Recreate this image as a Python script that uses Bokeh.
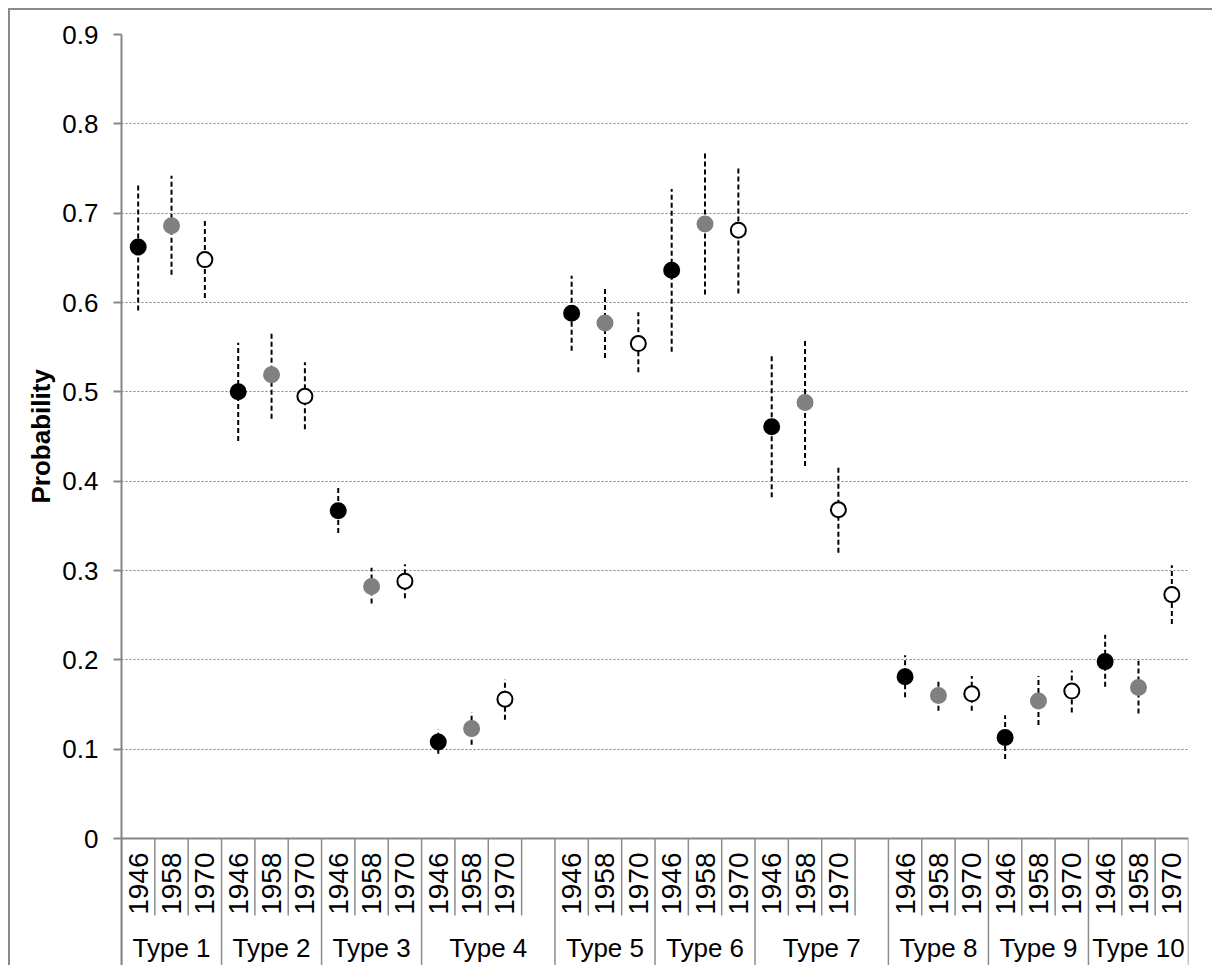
import math
from bokeh.plotting import figure
from bokeh.models import (Range1d, FixedTicker, Span, LabelSet, Title,
                          ColumnDataSource, CustomJSTickFormatter)
from bokeh.embed import file_html
from bokeh.resources import INLINE
from bokeh.core.properties import value

# ---------------- data ----------------
types = ["Type 1", "Type 2", "Type 3", "Type 4", "Type 5",
         "Type 6", "Type 7", "Type 8", "Type 9", "Type 10"]
cohorts = ["1946", "1958", "1970"]
slots_per_type = [3, 3, 3, 4, 3, 3, 4, 3, 3, 3]   # Type 4 and Type 7 carry an empty slot

v1946 = [0.662, 0.500, 0.367, 0.108, 0.588, 0.636, 0.461, 0.181, 0.113, 0.198]
lo1946 = [0.591, 0.445, 0.342, 0.095, 0.546, 0.545, 0.382, 0.158, 0.089, 0.170]
hi1946 = [0.732, 0.555, 0.394, 0.122, 0.630, 0.727, 0.541, 0.205, 0.138, 0.228]

v1958 = [0.686, 0.519, 0.282, 0.123, 0.577, 0.688, 0.488, 0.160, 0.154, 0.169]
lo1958 = [0.631, 0.470, 0.263, 0.105, 0.538, 0.609, 0.417, 0.143, 0.127, 0.140]
hi1958 = [0.742, 0.568, 0.303, 0.141, 0.615, 0.768, 0.560, 0.178, 0.182, 0.199]

v1970 = [0.648, 0.495, 0.288, 0.156, 0.554, 0.681, 0.368, 0.162, 0.165, 0.273]
lo1970 = [0.605, 0.458, 0.269, 0.133, 0.522, 0.610, 0.320, 0.143, 0.141, 0.240]
hi1970 = [0.692, 0.533, 0.307, 0.178, 0.589, 0.751, 0.416, 0.182, 0.188, 0.306]

y_ticks = [0, 0.1, 0.2, 0.3, 0.4, 0.5, 0.6, 0.7, 0.8, 0.9]
y_title = "Probability"

# ---------------- layout helpers ----------------
FONT = "Liberation Sans"
AXIS_GREY = "#868686"
SEP_GREY = "#8c8c8c"
GRID_GREY = "#808080"

W, H = 1212, 965
LEFT, RIGHT, TOP = 121, 24, 34
px_per_unit = (838 - TOP) / 0.9          # 0 sits 804 px below 0.9
y_bottom = -(H - 838) / px_per_unit      # frame extends down to the figure bottom

starts = []
s = 0
for n in slots_per_type:
    starts.append(s)
    s += n
n_slots = s

p = figure(width=W, height=H, output_backend="svg", toolbar_location=None,
           x_range=Range1d(0, n_slots), y_range=Range1d(y_bottom, 0.9),
           x_axis_location=None, min_border_left=LEFT, min_border_right=RIGHT,
           min_border_top=TOP, min_border_bottom=0)
p.border_fill_color = None
p.background_fill_color = "white"
p.outline_line_color = None
p.styles = {"box-shadow": "inset 8px 8px 0 0 white, inset 10px 10px 0 0 #8a8a8a"}

# y axis
ya = p.yaxis[0]
ya.ticker = FixedTicker(ticks=y_ticks)
ya.formatter = CustomJSTickFormatter(code="return Math.abs(tick) < 1e-9 ? '0' : tick.toFixed(1);")
ya.axis_line_color = AXIS_GREY
ya.axis_line_width = 2
ya.major_tick_line_color = AXIS_GREY
ya.major_tick_line_width = 2
ya.major_tick_out = 8
ya.major_tick_in = 0
ya.minor_tick_line_color = None
ya.major_label_text_font = FONT
ya.major_label_text_font_size = "26px"
ya.major_label_text_color = "black"
ya.major_label_standoff = 15

p.add_layout(Title(text=y_title, align="left", offset=H - 503, vertical_align="bottom",
                   standoff=8, text_font=FONT, text_font_size="26px",
                   text_font_style="bold", text_color="black"), "left")

p.ygrid.ticker = FixedTicker(ticks=y_ticks[1:])
p.ygrid.grid_line_color = GRID_GREY
p.ygrid.grid_line_dash = "2 2"
p.ygrid.grid_line_width = 1
p.xgrid.visible = False

# ---------------- category axis below 0 ----------------
yr_top = -14 / px_per_unit
yr_sep_bottom = -77 / px_per_unit
type_baseline = -118 / px_per_unit

type_b = starts + [n_slots]
year_b = []
for i in range(len(types)):
    for k in range(1, slots_per_type[i]):
        year_b.append(starts[i] + k)
sx = type_b + year_b
sy1 = [y_bottom] * len(type_b) + [yr_sep_bottom] * len(year_b)
p.segment(x0="x", y0="y0", x1="x", y1="y1",
          source=ColumnDataSource(dict(x=sx, y0=[0] * len(sx), y1=sy1)),
          line_color=SEP_GREY, line_width=1.5)

# x axis line at 0
p.add_layout(Span(location=0, dimension="width", line_color=AXIS_GREY, line_width=2))

yx, yt = [], []
for i in range(len(types)):
    for k, c in enumerate(cohorts):
        yx.append(starts[i] + k + 0.5)
        yt.append(c)
p.add_layout(LabelSet(x="x", y="y", text="t",
                      source=ColumnDataSource(dict(x=yx, y=[yr_top] * len(yx), t=yt)),
                      angle=math.pi / 2, text_align="right", text_baseline="middle",
                      text_font=value(FONT), text_font_size="28px", text_color="black"))

tx = [starts[i] + slots_per_type[i] / 2 for i in range(len(types))]
p.add_layout(LabelSet(x="x", y="y", text="t",
                      source=ColumnDataSource(dict(x=tx, y=[type_baseline] * len(tx), t=types)),
                      text_align="center", text_baseline="alphabetic",
                      text_font=value(FONT), text_font_size="26px", text_color="black"))

# ---------------- series ----------------
series = [
    (v1946, lo1946, hi1946, "black", "black"),
    (v1958, lo1958, hi1958, "#808080", "#808080"),
    (v1970, lo1970, hi1970, "white", "black"),
]
for k, (vals, lo, hi, fill, line) in enumerate(series):
    xs = [starts[i] + k + 0.5 for i in range(len(types))]
    src = ColumnDataSource(dict(x=xs, y=vals, lo=lo, hi=hi))
    p.segment(x0="x", y0="lo", x1="x", y1="hi", source=src,
              line_color="black", line_width=2, line_dash="5 3")
for k, (vals, lo, hi, fill, line) in enumerate(series):
    xs = [starts[i] + k + 0.5 for i in range(len(types))]
    src = ColumnDataSource(dict(x=xs, y=vals))
    p.scatter(x="x", y="y", source=src, marker="circle", size=15,
              fill_color=fill, line_color=line, line_width=2)

open("out.html", "w").write(file_html(p, INLINE))
